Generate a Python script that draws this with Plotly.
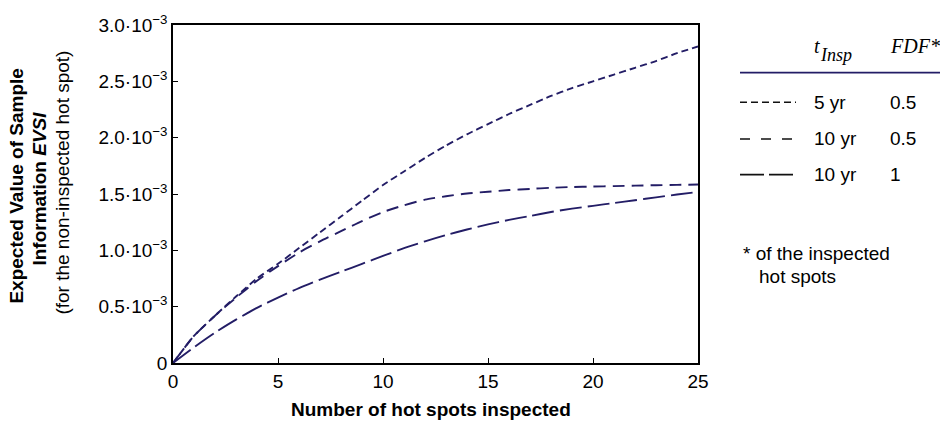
import plotly.graph_objects as go

# ---------------- data ----------------
x_spots = list(range(0, 26))
evsi_5yr_fdf05 = [0, 0.24, 0.42, 0.59, 0.75, 0.88, 1.02, 1.16, 1.30, 1.44, 1.58, 1.70, 1.82,
                  1.93, 2.03, 2.12, 2.21, 2.29, 2.37, 2.44, 2.50, 2.56, 2.62, 2.68, 2.75, 2.81]
evsi_10yr_fdf05 = [0, 0.24, 0.42, 0.58, 0.73, 0.86, 0.98, 1.08, 1.17, 1.26, 1.34, 1.40, 1.45,
                   1.48, 1.505, 1.52, 1.535, 1.545, 1.555, 1.562, 1.566, 1.570, 1.574, 1.578, 1.581, 1.584]
evsi_10yr_fdf1 = [0, 0.14, 0.27, 0.385, 0.49, 0.58, 0.665, 0.74, 0.81, 0.88, 0.95, 1.02, 1.08,
                  1.135, 1.185, 1.23, 1.27, 1.305, 1.34, 1.37, 1.395, 1.42, 1.445, 1.47, 1.495, 1.518]
scale = 1e-3

series_t = ["5 yr", "10 yr", "10 yr"]
series_fdf = ["0.5", "0.5", "1"]

x_ticks = [0, 5, 10, 15, 20, 25]
y_tickvals = [0, 0.5e-3, 1.0e-3, 1.5e-3, 2.0e-3, 2.5e-3, 3.0e-3]
y_ticktext = ["0", "0.5·10<sup>−3</sup>", "1.0·10<sup>−3</sup>", "1.5·10<sup>−3</sup>",
              "2.0·10<sup>−3</sup>", "2.5·10<sup>−3</sup>", "3.0·10<sup>−3</sup>"]

# ---------------- style ----------------
NAVY = "#231d66"
SANS = "Liberation Sans, Arial, sans-serif"
SERIF = "Liberation Serif, Times New Roman, serif"
FS = 19
dashes_plot = ["7px,4px", "12px,7px", "22px,6px"]
dashes_legend = ["7px,4px", "10px,11px", "24px,5px"]

W, H = 940, 428
L, R, T, B = 173, 698, 22, 363  # plot area in pixels


def px(x):
    return (x - L) / (R - L)


def py(y):
    return (B - y) / (B - T)


fig = go.Figure()
for ys, d in zip([evsi_5yr_fdf05, evsi_10yr_fdf05, evsi_10yr_fdf1], dashes_plot):
    fig.add_trace(go.Scatter(x=x_spots, y=[v * scale for v in ys], mode="lines",
                             line=dict(color=NAVY, width=1.9, dash=d, shape="spline", smoothing=0.6),
                             showlegend=False, hoverinfo="skip"))

fig.update_layout(
    width=W, height=H,
    margin=dict(l=L, r=W - R, t=T, b=H - B),
    paper_bgcolor="white", plot_bgcolor="white",
    font=dict(family=SANS, size=FS, color="black"),
    showlegend=False,
)
fig.update_xaxes(range=[0, 25], tickvals=x_ticks, ticks="inside", ticklen=5, tickcolor="black",
                 showline=True, linecolor="black", linewidth=1.5, mirror=True, showgrid=False,
                 zeroline=False, tickfont=dict(size=FS))
fig.update_yaxes(range=[0, 3.0e-3], tickvals=y_tickvals, ticktext=y_ticktext, ticks="inside",
                 ticklen=5, tickcolor="black", showline=True, linecolor="black", linewidth=1.5,
                 mirror=True, showgrid=False, zeroline=False, tickfont=dict(size=FS))

ann = []
# x axis title
ann.append(dict(text="<b>Number of hot spots inspected</b>", x=px(431), y=py(410), xref="paper",
                yref="paper", showarrow=False, font=dict(size=FS), xanchor="center", yanchor="middle"))
# y axis title lines
ann.append(dict(text="<b>Expected Value of Sample</b>", x=px(17), y=py(185), xref="paper", yref="paper",
                textangle=-90, showarrow=False, font=dict(size=FS), xanchor="center", yanchor="middle"))
ann.append(dict(text="<b>Information <i>EVSI</i></b>", x=px(40), y=py(187), xref="paper", yref="paper",
                textangle=-90, showarrow=False, font=dict(size=FS), xanchor="center", yanchor="middle"))
ann.append(dict(text="(for the non-inspected hot spot)", x=px(63), y=py(181), xref="paper", yref="paper",
                textangle=-90, showarrow=False, font=dict(size=FS), xanchor="center", yanchor="middle"))

# legend header
ann.append(dict(text="<i>t</i>", x=px(812), y=py(43), xref="paper", yref="paper",
                showarrow=False, font=dict(family=SERIF, size=20), xanchor="left", yanchor="middle"))
ann.append(dict(text="<i>Insp</i>", x=px(818), y=py(52), xref="paper", yref="paper",
                showarrow=False, font=dict(family=SERIF, size=18), xanchor="left", yanchor="middle"))
ann.append(dict(text="<i>FDF*</i>", x=px(888), y=py(43), xref="paper", yref="paper",
                showarrow=False, font=dict(family=SERIF, size=20), xanchor="left", yanchor="middle"))
shapes = [dict(type="line", xref="paper", yref="paper", x0=px(740), x1=px(940), y0=py(70), y1=py(70),
               line=dict(color=NAVY, width=1.8))]
row_y = [100, 137, 173]
for ry, d, t, f in zip(row_y, dashes_legend, series_t, series_fdf):
    shapes.append(dict(type="line", xref="paper", yref="paper", x0=px(740), x1=px(796), y0=py(ry),
                       y1=py(ry), line=dict(color="#111111", width=1.6, dash=d)))
    ann.append(dict(text=t, x=px(812), y=py(ry), xref="paper", yref="paper", showarrow=False,
                    font=dict(size=FS), xanchor="left", yanchor="middle"))
    ann.append(dict(text=f, x=px(888), y=py(ry), xref="paper", yref="paper", showarrow=False,
                    font=dict(size=FS), xanchor="left", yanchor="middle"))

ann.append(dict(text="* of the inspected", x=px(741), y=py(253), xref="paper", yref="paper",
                showarrow=False, font=dict(size=FS), xanchor="left", yanchor="middle"))
ann.append(dict(text="hot spots", x=px(757), y=py(276), xref="paper", yref="paper",
                showarrow=False, font=dict(size=FS), xanchor="left", yanchor="middle"))

fig.update_layout(annotations=ann, shapes=shapes)
fig.write_html("out.html")
